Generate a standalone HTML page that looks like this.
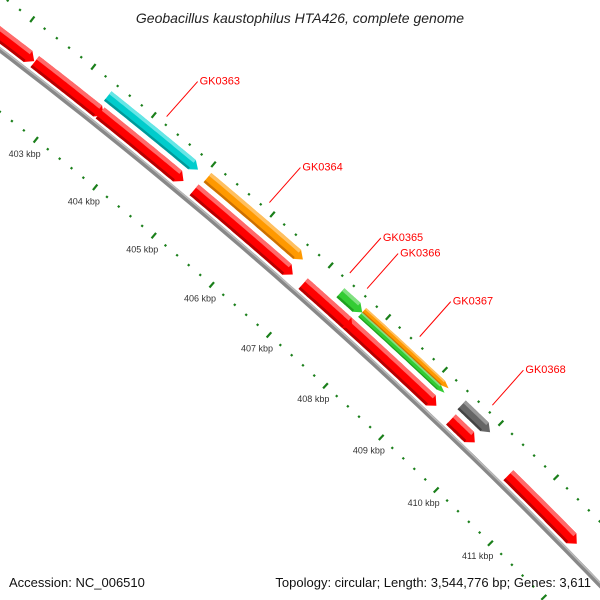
<!DOCTYPE html>
<html><head><meta charset="utf-8"><style>
html,body{margin:0;padding:0;background:#fff;width:600px;height:600px;overflow:hidden}
svg{display:block;font-family:"Liberation Sans",sans-serif}
</style></head><body>
<svg id="map" width="600" height="600" viewBox="0 0 600 600" xmlns="http://www.w3.org/2000/svg">
<rect width="600" height="600" fill="#fff"/>
<g id="ticks"></g>
<g id="backbone"></g>
<g id="features"></g>
<g id="labels"></g>
<text x="300" y="23" text-anchor="middle" font-size="14" font-style="italic" fill="#222">Geobacillus kaustophilus HTA426, complete genome</text>
<text x="9" y="587" font-size="13" fill="#111">Accession: NC_006510</text>
<text x="591" y="587" text-anchor="end" font-size="13" fill="#111">Topology: circular; Length: 3,544,776 bp; Genes: 3,611</text>
</svg>
<script>
const majorKbp = [401,402,403,404,405,406,407,408,409,410,411,412];
const tickLabels = ["401 kbp","402 kbp","403 kbp","404 kbp","405 kbp","406 kbp","407 kbp","408 kbp","409 kbp","410 kbp","411 kbp","412 kbp"];
const featNames = ["red-a","red-b","red-c","GK0363","GK0364","red-d","red-e","red-f","GK0365","GK0366","GK0367","GK0368","red-g","red-h","red-i"];
const featStart = [400.5,402.36,403.44,403.38,405.05,405.02,407.62,406.89,407.33,407.71,407.71,409.47,409.5,410.54,412.35];
const featEnd   = [402.35,403.5,404.84,404.89,406.68,406.71,409.24,407.75,407.71,409.2,409.2,409.98,409.93,411.8,413.5];
const featRing  = ["red","red","red","outer","outer","red","red","red","outer","inner-half","outer-half","outer","red","red","red"];
const featColor = ["red","red","red","cyan","orange","red","red","red","green","green","orange","gray","red","red","red"];
const labeled   = [false,false,false,true,true,false,false,false,true,true,true,true,false,false,false];
const labelKbp  = [0,0,0,404.14,405.87,0,0,0,407.25,407.55,408.47,409.76,0,0,0];

const NS="http://www.w3.org/2000/svg";
const CX=-3204, CY=4248;
function ang(k){return (51.74-0.8325*(k-403))*Math.PI/180;}
function P(k,r){const t=ang(k);return [CX+r*Math.cos(t),CY-r*Math.sin(t)];}
function mk(tag,attrs,parent){const e=document.createElementNS(NS,tag);for(const a in attrs)e.setAttribute(a,attrs[a]);parent.appendChild(e);return e;}
const pal={red:["#ff0000","#ff6a6a","#b80000"],cyan:["#00cccc","#66e6e6","#009999"],orange:["#ff9900","#ffc060","#cc7000"],green:["#33cc33","#80e080","#20a020"],gray:["#666666","#999999","#444444"]};
const rings={"red":[5293,14],"outer":[5311,12],"inner-half":[5308,6],"outer-half":[5314,6]};

const bb=document.getElementById('backbone');
function arcPts(k1,k2,r){let s=[];const n=80;for(let i=0;i<=n;i++){const p=P(k1+(k2-k1)*i/n,r);s.push(p[0].toFixed(1)+","+p[1].toFixed(1));}return s.join(" ");}
let e=mk('polyline',{points:arcPts(399,414.5,5281),fill:"none",stroke:"#888",'stroke-width':5},bb);


e=mk('polyline',{points:arcPts(399,414.5,5282.5),fill:"none",stroke:"#bbb",'stroke-width':1.5},bb);



const tg=document.getElementById('ticks');
function tickAt(k,r,major){
  const len=major?7:2.2;
  const a=P(k,r-len/2), b=P(k,r+len/2);
  const t=mk('line',{x1:a[0],y1:a[1],x2:b[0],y2:b[1],stroke:"#1a7f1a",'stroke-width':2.2},tg);
  
  
}
majorKbp.forEach((k,i)=>{
  [5232,5325].forEach(r=>{
    tickAt(k,r,true);
    for(let j=1;j<5;j++) tickAt(k+j*0.2,r,false);
  });
  const p=P(k,5214);
  if(p[1]<575){
    const t=mk('text',{x:p[0],y:p[1]+3,'text-anchor':'middle','font-size':9,fill:"#333"},tg);
    t.textContent=tickLabels[i];
    
    
  }
});

const fg=document.getElementById('features'), lg=document.getElementById('labels');
function bandPath(k1,k2,r,w){
  const headK=Math.min(0.1,(k2-k1)*0.6);
  const ke=k2-headK, n=30;
  let pts=[];
  for(let i=0;i<=n;i++)pts.push(P(k1+(ke-k1)*i/n,r+w/2));
  pts.push(P(k2,r));
  for(let i=n;i>=0;i--)pts.push(P(k1+(ke-k1)*i/n,r-w/2));
  return "M"+pts.map(p=>p[0].toFixed(1)+","+p[1].toFixed(1)).join("L")+"Z";
}
function stripPath(k1,k2,r1,r2){
  const n=30;let pts=[];
  for(let i=0;i<=n;i++)pts.push(P(k1+(k2-k1)*i/n,r1));
  for(let i=n;i>=0;i--)pts.push(P(k1+(k2-k1)*i/n,r2));
  return "M"+pts.map(p=>p[0].toFixed(1)+","+p[1].toFixed(1)).join("L")+"Z";
}
featNames.forEach((nm,i)=>{
  const [r,w]=rings[featRing[i]], c=pal[featColor[i]];
  const k1=featStart[i], k2=featEnd[i];
  const g=mk('g',{},fg);
  
  
  mk('path',{d:bandPath(k1,k2,r,w),fill:c[0]},g);
  const hk=Math.min(0.1,(k2-k1)*0.6);
  mk('path',{d:stripPath(k1,k2-hk,r+w/2,r+w/2-w*0.3),fill:c[1]},g);
  mk('path',{d:stripPath(k1,k2-hk,r-w/2+w*0.2,r-w/2),fill:c[2]},g);
  if(labeled[i]){
    const a=P(labelKbp[i],5332), b=[a[0]+31,a[1]-35];
    const ln=mk('line',{x1:a[0],y1:a[1],x2:b[0],y2:b[1],stroke:"#ff0000",'stroke-width':1},lg);
    
    
    const t=mk('text',{x:b[0]+2,y:b[1]+3,'font-size':11,fill:"#ff0000"},lg);
    t.textContent=nm;
    
    
  }
});
</script>
</body></html>
